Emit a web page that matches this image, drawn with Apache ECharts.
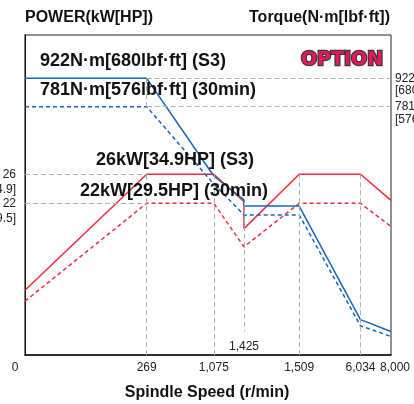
<!DOCTYPE html>
<html>
<head>
<meta charset="utf-8">
<script src="https://cdn.jsdelivr.net/npm/echarts@6/dist/echarts.min.js"></script>
<style>html,body{margin:0;padding:0;background:#fff}#c{width:414px;height:404px}</style>
</head>
<body>
<div id="c"></div>
<script>
// Speed ticks (r/min) and their place on the chart's non-linear speed scale
const speedTicks = [0, 269, 1075, 1425, 1509, 6034, 8000];
const speedScale = [0, 3.99, 6.19, 7.18, 8.99, 11.0, 12];

// Power curves (kW)
const powerS3Speed = [0, 269, 1075, 1425, 1425, 1509, 6034, 8000];
const powerS3 = [10, 26, 26, 22.2, 18.5, 26, 26, 22.4];
const power30Speed = [0, 269, 1075, 1425, 1509, 6034, 8000];
const power30 = [8.5, 22, 22, 16, 22, 22, 18.8];

// Torque curves (N·m)
const torqueS3Speed = [0, 269, 1075, 1425, 1425, 1509, 6034, 8000];
const torqueS3 = [922, 922, 521, 453, 437, 437, 225, 210];
const torque30Speed = [0, 269, 1075, 1425, 1509, 6034, 8000];
const torque30 = [781, 781, 497, 415, 415, 217, 204];

// Axis tick labels
const powerTicks = [22, 26];
const powerHP = {22: '29.5', 26: '34.9'};
const torqueTicks = [781, 922];
const torqueLbf = {781: '576', 922: '680'};

const powerMin = 1.08, powerMax = 45.2;
const torqueMin = 183, torqueMax = 1187.5;

function toPos(s) {
  for (let i = 1; i < speedTicks.length; i++) {
    if (s <= speedTicks[i]) {
      const t = (s - speedTicks[i-1]) / (speedTicks[i] - speedTicks[i-1]);
      return speedScale[i-1] + t * (speedScale[i] - speedScale[i-1]);
    }
  }
  return speedScale[speedScale.length - 1];
}
function fromPos(p) {
  let best = 0;
  speedScale.forEach((v, i) => { if (Math.abs(v - p) < Math.abs(speedScale[best] - p)) best = i; });
  return speedTicks[best];
}
const pts = (sp, vals) => sp.map((s, i) => [toPos(s), vals[i]]);
const FONT = 'Liberation Sans, Arial, sans-serif';
const RED = '#ee2d3a', BLUE = '#1565b8', GRID = '#b0b0b0';
const seg = (x1, y1, x2, y2) => [{coord: [x1, y1]}, {coord: [x2, y2]}];
const mlStyle = {silent: true, symbol: 'none', label: {show: false},
  lineStyle: {color: GRID, type: [5, 3], width: 1}, emphasis: {disabled: true}};
const lbl = {color: '#222', fontSize: 12, fontFamily: FONT, hideOverlap: false};
const hiddenAxisParts = {axisLine: {show: false}, axisTick: {show: false}, splitLine: {show: false}, minorTick: {show: false}};

const chart = echarts.init(document.getElementById('c'), null, {renderer: 'canvas'});
chart.setOption({
  animation: false,
  grid: {left: 25, right: 23, top: 35, bottom: 49, show: true, borderColor: '#222', borderWidth: 1,
         containLabel: false, outerBoundsMode: 'none'},
  xAxis: [{
    type: 'value', min: 0, max: 12, position: 'bottom',
    axisLine: {show: true, lineStyle: {color: '#111', width: 1.5}},
    axisTick: {show: false}, splitLine: {show: false},
    axisLabel: Object.assign({}, lbl, {
      customValues: [0, 1, 2, 4, 5, 6].map(i => speedScale[i]),
      margin: 7,
      formatter: v => {
        const s = fromPos(v);
        if (s === 0) return '{l|0}';
        if (s === 8000) return '{r|8,000}';
        return s.toLocaleString('en-US');
      },
      rich: {l: {padding: [0, 20, 0, 0], fontSize: 12, fontFamily: FONT, color: '#222'},
             r: {padding: [0, 0, 0, 8], fontSize: 12, fontFamily: FONT, color: '#222'}}
    })
  }, Object.assign({
    type: 'value', min: 0, max: 12, position: 'bottom',
    axisLabel: Object.assign({}, lbl, {customValues: [speedScale[3]], margin: -14,
      formatter: v => fromPos(v).toLocaleString('en-US')})
  }, hiddenAxisParts)],
  yAxis: [{
    type: 'value', min: powerMin, max: powerMax, position: 'left',
    axisLine: {show: true, lineStyle: {color: '#808080', width: 2}},
    axisTick: {show: false}, splitLine: {show: false},
    axisLabel: Object.assign({}, lbl, {customValues: powerTicks, margin: 9, formatter: v => String(v)})
  }, {
    type: 'log', logBase: 10, min: torqueMin, max: torqueMax, position: 'right',
    axisLine: {show: true, lineStyle: {color: '#111', width: 1}},
    axisTick: {show: false}, splitLine: {show: false}, minorTick: {show: false},
    axisLabel: Object.assign({}, lbl, {customValues: torqueTicks, margin: 4, align: 'left',
      formatter: v => String(Math.round(v))})
  }, Object.assign({
    type: 'value', min: powerMin, max: powerMax, position: 'left',
    axisLabel: Object.assign({}, lbl, {customValues: powerTicks, margin: 9, verticalAlign: 'top',
      lineHeight: 14, padding: [8, 0, 0, 0], formatter: v => '[' + powerHP[v] + ']'})
  }, hiddenAxisParts), Object.assign({
    type: 'log', logBase: 10, min: torqueMin, max: torqueMax, position: 'right',
    axisLabel: Object.assign({}, lbl, {customValues: torqueTicks, margin: 4, align: 'left', verticalAlign: 'top',
      lineHeight: 13, padding: [6, 0, 0, 0], formatter: v => '[' + torqueLbf[Math.round(v)] + ']'})
  }, hiddenAxisParts)],
  series: [
    {type: 'line', yAxisIndex: 0, data: pts(powerS3Speed, powerS3), symbol: 'none',
     lineStyle: {color: RED, width: 1.5}, z: 3,
     markLine: Object.assign({}, mlStyle, {data: [
       seg(toPos(0), 26, toPos(269), 26),
       seg(toPos(0), 22, toPos(269), 22),
       seg(toPos(269), 26, toPos(269), powerMin),
       seg(toPos(1075), 26, toPos(1075), powerMin),
       seg(toPos(1425), 22.2, toPos(1425), 4.3),
       seg(toPos(1509), 26, toPos(1509), powerMin),
       seg(toPos(6034), 26, toPos(6034), powerMin)
     ]})},
    {type: 'line', yAxisIndex: 0, data: pts(power30Speed, power30), symbol: 'none',
     lineStyle: {color: RED, width: 1.5, type: [4, 3]}, z: 3},
    {type: 'line', yAxisIndex: 1, data: pts(torqueS3Speed, torqueS3), symbol: 'none',
     lineStyle: {color: BLUE, width: 1.5}, z: 4,
     markLine: Object.assign({}, mlStyle, {data: [
       seg(toPos(269), 922, 12, 922),
       seg(toPos(269), 781, 12, 781),
       seg(toPos(269), 922, toPos(269), 781)
     ]})},
    {type: 'line', yAxisIndex: 1, data: pts(torque30Speed, torque30), symbol: 'none',
     lineStyle: {color: BLUE, width: 1.5, type: [4, 3]}, z: 4}
  ],
  graphic: [
    {type: 'text', left: 25, top: 10, style: {text: 'POWER(kW[HP])', font: 'bold 16px ' + FONT, fill: '#111'}},
    {type: 'text', right: 24, top: 10, style: {text: 'Torque(N·m[lbf·ft])', font: 'bold 16px ' + FONT, fill: '#111'}},
    {type: 'text', left: 'center', top: 385, style: {text: 'Spindle Speed (r/min)', font: 'bold 16px ' + FONT, fill: '#111'}},
    {type: 'text', x: 40, y: 61, z: 10, style: {text: '922N·m[680lbf·ft] (S3)', font: 'bold 18px ' + FONT, fill: '#111', verticalAlign: 'middle'}},
    {type: 'text', x: 40, y: 90, z: 10, style: {text: '781N·m[576lbf·ft] (30min)', font: 'bold 18px ' + FONT, fill: '#111', verticalAlign: 'middle'}},
    {type: 'text', x: 96, y: 160, z: 10, style: {text: '26kW[34.9HP] (S3)', font: 'bold 18px ' + FONT, fill: '#111', verticalAlign: 'middle'}},
    {type: 'text', x: 80, y: 191, z: 10, style: {text: '22kW[29.5HP] (30min)', font: 'bold 18px ' + FONT, fill: '#111', verticalAlign: 'middle'}},
    {type: 'text', x: 342, y: 60, z: 10, style: {text: 'OPTION', font: 'bold 19px DejaVu Sans', fill: '#e8175d',
      stroke: '#3a3a3a', lineWidth: 2.5, align: 'center', verticalAlign: 'middle'}}
  ]
});
</script>
</body>
</html>
